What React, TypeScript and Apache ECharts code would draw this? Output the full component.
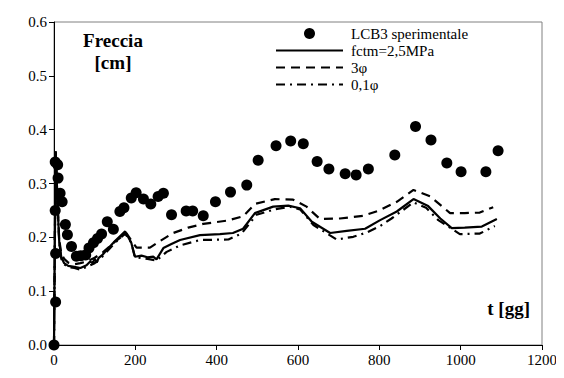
import React, { useEffect, useRef } from "react";
import * as echarts from "echarts";

// Measured deflection (LCB3 beam), [t in days, deflection in cm]
const sperimentale: [number, number][] = [
  [0, 0], [4, 0.08], [4, 0.17], [3, 0.25], [3, 0.34], [9, 0.335], [10, 0.31],
  [15, 0.282], [20, 0.266], [28, 0.224], [33, 0.205], [43, 0.183], [55, 0.165],
  [66, 0.166], [78, 0.167], [86, 0.18], [97, 0.19], [107, 0.198], [117, 0.206],
  [131, 0.229], [146, 0.215], [162, 0.248], [172, 0.255], [190, 0.273],
  [202, 0.283], [220, 0.271], [238, 0.262], [256, 0.276], [269, 0.282],
  [289, 0.242], [325, 0.249], [341, 0.249], [367, 0.24], [397, 0.266],
  [434, 0.284], [474, 0.297], [502, 0.343], [546, 0.37], [582, 0.379],
  [613, 0.374], [647, 0.341], [676, 0.327], [716, 0.318], [743, 0.316],
  [773, 0.327], [838, 0.353], [889, 0.406], [927, 0.381], [966, 0.338],
  [1001, 0.322], [1062, 0.322], [1092, 0.361],
];

// Model, fctm = 2.5 MPa
const fctm: [number, number][] = [
  [0, 0], [4, 0.36], [7, 0.3], [10, 0.24], [13, 0.19], [18, 0.163], [25, 0.152],
  [35, 0.147], [50, 0.145], [65, 0.143], [80, 0.148], [89, 0.155], [95, 0.152],
  [100, 0.16], [105, 0.153], [110, 0.162], [120, 0.168], [130, 0.177],
  [150, 0.193], [175, 0.211], [190, 0.19], [199, 0.164], [215, 0.166],
  [230, 0.163], [244, 0.164], [252, 0.159], [269, 0.18], [290, 0.188],
  [310, 0.195], [359, 0.204], [408, 0.206], [440, 0.208], [465, 0.216],
  [494, 0.245], [539, 0.257], [576, 0.259], [605, 0.254], [634, 0.229],
  [679, 0.208], [720, 0.212], [765, 0.216], [802, 0.232], [843, 0.248],
  [884, 0.271], [920, 0.258], [950, 0.235], [978, 0.217], [1010, 0.218],
  [1052, 0.22], [1089, 0.234],
];

// Model, creep coefficient x3
const phi3: [number, number][] = [
  [0, 0], [4, 0.36], [7, 0.3], [10, 0.24], [13, 0.195], [18, 0.17], [25, 0.16],
  [35, 0.153], [50, 0.15], [65, 0.152], [80, 0.155], [100, 0.162], [120, 0.172],
  [150, 0.192], [178, 0.208], [192, 0.192], [203, 0.181], [236, 0.181],
  [252, 0.189], [293, 0.208], [330, 0.218], [367, 0.225], [425, 0.231],
  [465, 0.239], [494, 0.262], [543, 0.271], [588, 0.27], [621, 0.257],
  [654, 0.234], [703, 0.235], [760, 0.24], [800, 0.25], [843, 0.266],
  [884, 0.288], [925, 0.276], [974, 0.245], [1010, 0.245], [1047, 0.246],
  [1080, 0.256],
];

// Model, creep coefficient x0.1
const phi01: [number, number][] = [
  [0, 0], [4, 0.36], [7, 0.3], [10, 0.24], [13, 0.188], [18, 0.16], [25, 0.15],
  [35, 0.145], [50, 0.143], [65, 0.14], [80, 0.145], [100, 0.152], [120, 0.165],
  [150, 0.19], [175, 0.207], [190, 0.19], [199, 0.163], [230, 0.16],
  [252, 0.157], [277, 0.173], [310, 0.185], [359, 0.195], [429, 0.196],
  [461, 0.207], [498, 0.242], [543, 0.252], [580, 0.257], [605, 0.252],
  [638, 0.223], [695, 0.196], [736, 0.201], [769, 0.209], [802, 0.221],
  [830, 0.235], [884, 0.265], [915, 0.255], [945, 0.232], [998, 0.206],
  [1047, 0.207], [1084, 0.221],
];

const seriesNames = ["LCB3 sperimentale", "fctm=2,5MPa", "3φ", "0,1φ"];

const FONT = "Liberation Serif";

export default function App() {
  const ref = useRef<HTMLDivElement>(null);

  useEffect(() => {
    if (!ref.current) return;
    const chart = echarts.init(ref.current, undefined, { renderer: "svg" });
    const lineBase = {
      type: "line" as const,
      symbol: "none",
      smooth: false,
      z: 2,
    };
    const hiddenSymbol = { color: "rgba(0,0,0,0)", opacity: 0, borderWidth: 0 };
    chart.setOption({
      animation: false,
      backgroundColor: "#fff",
      textStyle: { fontFamily: FONT, color: "#000" },
      grid: {
        left: 54,
        right: 22,
        top: 22,
        bottom: 33,
        show: true,
        borderColor: "#808080",
        borderWidth: 1,
        backgroundColor: "transparent",
      },
      legend: {
        orient: "vertical",
        left: 275,
        top: 26,
        padding: 0,
        itemWidth: 67,
        itemHeight: 11,
        itemGap: 2,
        data: [
          { name: seriesNames[0] },
          { name: seriesNames[1], itemStyle: hiddenSymbol },
          { name: seriesNames[2], itemStyle: hiddenSymbol },
          { name: seriesNames[3], itemStyle: hiddenSymbol },
        ],
        textStyle: {
          fontFamily: FONT,
          fontSize: 15,
          color: "#000",
          lineHeight: 15,
          padding: [0, 0, 0, 3],
        },
      },
      xAxis: {
        type: "value",
        min: 0,
        max: 1200,
        interval: 200,
        axisLine: { show: true, lineStyle: { color: "#000", width: 1 } },
        axisTick: { show: true, inside: false, length: 5, lineStyle: { color: "#000" } },
        axisLabel: {
          fontFamily: FONT,
          fontSize: 15,
          color: "#000",
          margin: 7,
          formatter: (v: number) => String(v),
        },
        splitLine: { show: false },
      },
      yAxis: {
        type: "value",
        min: 0,
        max: 0.6,
        interval: 0.1,
        axisLine: { show: true, lineStyle: { color: "#000", width: 1 } },
        axisTick: { show: true, inside: false, length: 5, lineStyle: { color: "#000" } },
        axisLabel: {
          fontFamily: FONT,
          fontSize: 15,
          color: "#000",
          margin: 7,
          formatter: (v: number) => v.toFixed(1),
        },
        splitLine: { show: false },
      },
      graphic: [
        {
          type: "text",
          x: 113,
          y: 31,
          style: {
            text: "Freccia",
            font: `bold 19px "${FONT}"`,
            fill: "#000",
            textAlign: "center",
          },
        },
        {
          type: "text",
          x: 113,
          y: 53,
          style: {
            text: "[cm]",
            font: `bold 19px "${FONT}"`,
            fill: "#000",
            textAlign: "center",
          },
        },
        {
          type: "text",
          right: 34,
          top: 299,
          style: {
            text: "t [gg]",
            font: `bold 19px "${FONT}"`,
            fill: "#000",
          },
        },
      ],
      series: [
        {
          name: seriesNames[0],
          type: "scatter",
          data: sperimentale,
          symbol: "circle",
          symbolSize: 11,
          itemStyle: { color: "#000", opacity: 1 },
          z: 3,
        },
        {
          ...lineBase,
          name: seriesNames[1],
          data: fctm,
          lineStyle: { color: "#000", width: 2.2, type: "solid" },
          itemStyle: { color: "#000" },
        },
        {
          ...lineBase,
          name: seriesNames[2],
          data: phi3,
          lineStyle: { color: "#000", width: 2.2, type: [9, 6] },
          itemStyle: { color: "#000" },
        },
        {
          ...lineBase,
          name: seriesNames[3],
          data: phi01,
          lineStyle: { color: "#000", width: 2.2, type: [9, 5, 2, 5] },
          itemStyle: { color: "#000" },
        },
      ],
    });
    return () => chart.dispose();
  }, []);

  return <div ref={ref} style={{ width: 564, height: 378, margin: -8 }} />;
}
